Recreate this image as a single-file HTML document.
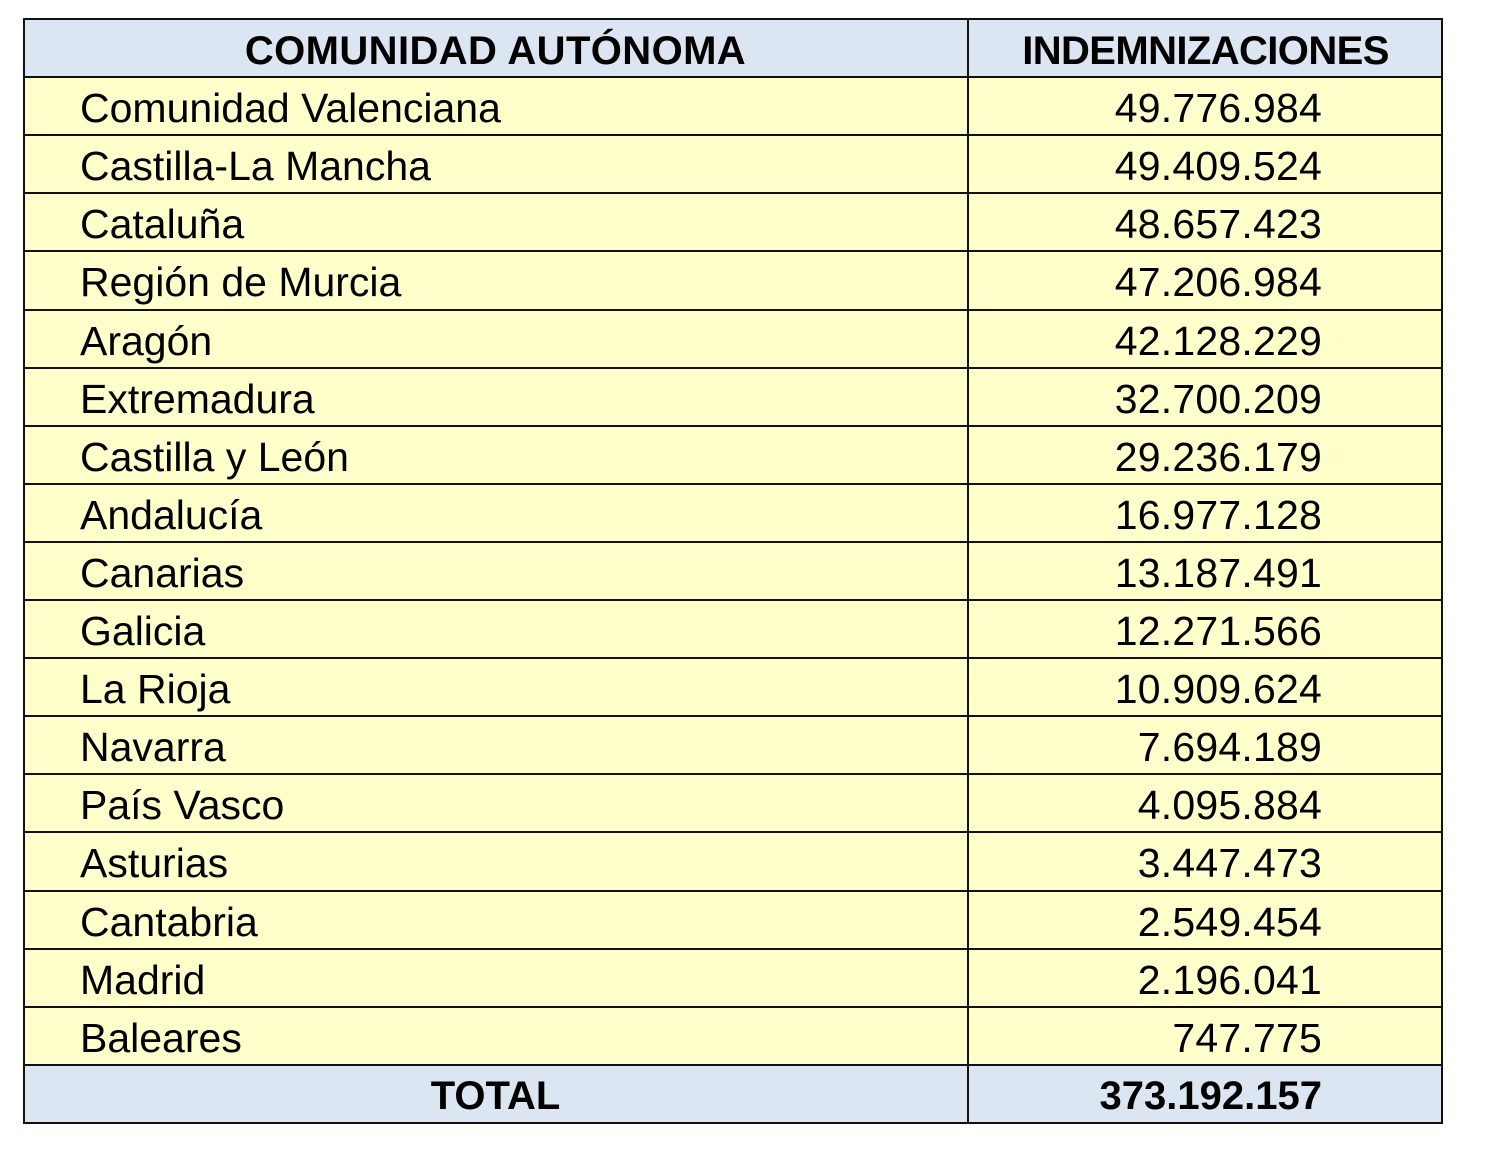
<!DOCTYPE html>
<html>
<head>
<meta charset="utf-8">
<style>
html,body{margin:0;padding:0;background:#fff;}
body{width:1500px;height:1151px;position:relative;overflow:hidden;font-family:"Liberation Sans",Arial,sans-serif;color:#000;}
.row{position:absolute;left:23px;width:1420px;height:58.1px;box-sizing:border-box;}
.y{background:#ffffcc;}
.b{background:#dce6f2;}
.hl{position:absolute;left:23px;width:1420px;height:2px;background:#111;}
.vl{position:absolute;top:19px;width:2px;height:1105px;background:#111;}
.name{position:absolute;left:57px;top:0;height:58px;line-height:58px;font-size:41px;padding-top:2px;white-space:nowrap;}
.val{position:absolute;right:121px;top:0;height:58px;line-height:58px;font-size:41px;padding-top:2px;white-space:nowrap;letter-spacing:0.2px;}
.hd{position:absolute;top:0;height:58px;line-height:58px;font-size:40px;font-weight:bold;padding-top:3px;white-space:nowrap;text-align:center;letter-spacing:0.4px;}
.tot{position:absolute;top:0;height:58px;line-height:58px;font-size:40px;font-weight:bold;padding-top:2px;white-space:nowrap;}
</style>
</head>
<body>

<div class="row b" style="top:19px;">
  <div class="hd" style="left:0;width:945px;">COMUNIDAD AUTÓNOMA</div>
  <div class="hd" style="left:945px;width:475px;letter-spacing:-0.6px;">INDEMNIZACIONES</div>
</div>

<div class="row y" style="top:77.1px;"><div class="name">Comunidad Valenciana</div><div class="val">49.776.984</div></div>
<div class="row y" style="top:135.2px;"><div class="name">Castilla-La Mancha</div><div class="val">49.409.524</div></div>
<div class="row y" style="top:193.3px;"><div class="name">Cataluña</div><div class="val">48.657.423</div></div>
<div class="row y" style="top:251.4px;"><div class="name">Región de Murcia</div><div class="val">47.206.984</div></div>
<div class="row y" style="top:309.5px;"><div class="name">Aragón</div><div class="val">42.128.229</div></div>
<div class="row y" style="top:367.6px;"><div class="name">Extremadura</div><div class="val">32.700.209</div></div>
<div class="row y" style="top:425.7px;"><div class="name">Castilla y León</div><div class="val">29.236.179</div></div>
<div class="row y" style="top:483.8px;"><div class="name">Andalucía</div><div class="val">16.977.128</div></div>
<div class="row y" style="top:541.9px;"><div class="name">Canarias</div><div class="val">13.187.491</div></div>
<div class="row y" style="top:600.0px;"><div class="name">Galicia</div><div class="val">12.271.566</div></div>
<div class="row y" style="top:658.1px;"><div class="name">La Rioja</div><div class="val">10.909.624</div></div>
<div class="row y" style="top:716.2px;"><div class="name">Navarra</div><div class="val">7.694.189</div></div>
<div class="row y" style="top:774.3px;"><div class="name">País Vasco</div><div class="val">4.095.884</div></div>
<div class="row y" style="top:832.4px;"><div class="name">Asturias</div><div class="val">3.447.473</div></div>
<div class="row y" style="top:890.5px;"><div class="name">Cantabria</div><div class="val">2.549.454</div></div>
<div class="row y" style="top:948.6px;"><div class="name">Madrid</div><div class="val">2.196.041</div></div>
<div class="row y" style="top:1006.7px;"><div class="name">Baleares</div><div class="val">747.775</div></div>

<div class="row b" style="top:1064.8px;">
  <div class="tot" style="left:0;width:945px;text-align:center;">TOTAL</div>
  <div class="tot" style="right:121px;">373.192.157</div>
</div>

<!-- horizontal lines -->
<div class="hl" style="top:18px;"></div>
<div class="hl" style="top:76.1px;"></div>
<div class="hl" style="top:134.2px;"></div>
<div class="hl" style="top:192.3px;"></div>
<div class="hl" style="top:250.4px;"></div>
<div class="hl" style="top:308.5px;"></div>
<div class="hl" style="top:366.6px;"></div>
<div class="hl" style="top:424.7px;"></div>
<div class="hl" style="top:482.8px;"></div>
<div class="hl" style="top:540.9px;"></div>
<div class="hl" style="top:599.0px;"></div>
<div class="hl" style="top:657.1px;"></div>
<div class="hl" style="top:715.2px;"></div>
<div class="hl" style="top:773.3px;"></div>
<div class="hl" style="top:831.4px;"></div>
<div class="hl" style="top:889.5px;"></div>
<div class="hl" style="top:947.6px;"></div>
<div class="hl" style="top:1005.7px;"></div>
<div class="hl" style="top:1063.8px;"></div>
<div class="hl" style="top:1122px;"></div>

<!-- vertical lines -->
<div class="vl" style="left:23px;"></div>
<div class="vl" style="left:967px;"></div>
<div class="vl" style="left:1441px;"></div>

</body>
</html>
